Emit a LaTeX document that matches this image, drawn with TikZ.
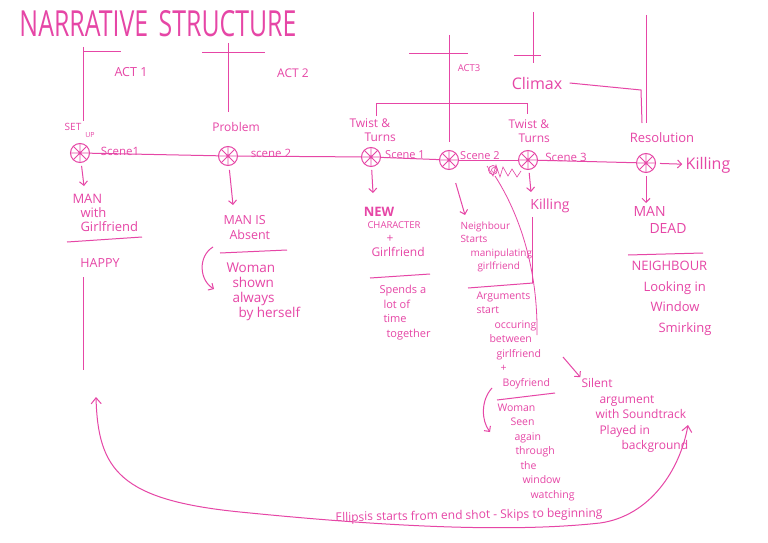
\documentclass[tikz,border=0pt]{standalone}
\usepackage{fontspec}
\setmainfont{Open Sans}
\usetikzlibrary{arrows.meta}
\definecolor{ink}{RGB}{230,70,166}
\begin{document}
\begin{tikzpicture}[x=1pt,y=-1pt,line width=1pt,color=ink,
  hand/.style={text=ink,inner sep=0pt,align=left,font=\fontsize{12}{14}\selectfont},
  handB/.style={hand,font=\fontsize{10.5}{14.5}\selectfont},
  lab/.style={text=ink,inner sep=0pt,font=\fontsize{11}{12}\selectfont},
  arr/.style={-{Straight Barb[length=4pt,width=8pt]}},
  wheel/.style={circle,draw=ink,line width=1pt,minimum size=19pt,inner sep=0pt,
    path picture={\draw[line width=0.75pt]
      (path picture bounding box.north)--(path picture bounding box.south)
      (path picture bounding box.west)--(path picture bounding box.east)
      (path picture bounding box.north east)--(path picture bounding box.south west)
      (path picture bounding box.north west)--(path picture bounding box.south east);}}]
\useasboundingbox[fill=white] (0,0) rectangle (768,543);

% title
\node[inner sep=0pt,text=ink] (title) at (158,24) {\fontsize{30}{30}\selectfont\resizebox{277pt}{26pt}{NARRATIVE \,STRUCTURE}};

% act markers
\draw (83,47) -- (83,121);  \draw (83,52) -- (121,52);
\draw (228,43) -- (228,112); \draw (202,53) -- (265,53);
\draw (449,35) -- (449,142); \draw (409,54) -- (468,54);
\draw (533,12) -- (533,63); \draw (514,56) -- (541,56);
\draw (646,15) -- (646,123);
\node[lab,font=\fontsize{12.5}{14}\selectfont] (act1) at (131,72) {ACT 1};
\node[lab,font=\fontsize{12}{14}\selectfont] (act2) at (293,73) {ACT 2};
\node[lab,font=\fontsize{9.5}{10}\selectfont] (act3) at (469,68) {ACT3};
\node[hand,font=\fontsize{16}{18}\selectfont] (climax) at (537,83) {Climax};
\coordinate (cb1) at (641,90);
\coordinate (cb2) at (642,123);
\draw ([xshift=7pt]climax.east) -- (cb1) -- (cb2);

% twist bracket
\draw (376,116) -- (376,103) -- (527,103) -- (527,114);

% wheels
\node[wheel] (c1) at (80,153) {};
\node[wheel] (c2) at (228,156) {};
\node[wheel] (c3) at (371,157) {};
\node[wheel] (c4) at (449,160) {};
\node[wheel] (c5) at (528,160) {};
\node[wheel] (c6) at (646,163) {};
\draw (c1) -- (c2);
\draw (c2) -- (c3);
\draw (c3) -- (c4);
\draw (c4) -- (c5);
\draw (c5) -- (c6);

% scene labels
\node[lab,font=\fontsize{11.5}{12}\selectfont] (sc1) at (120,151) {Scene1};
\node[lab,font=\fontsize{11.5}{12}\selectfont] (sc2) at (271,153) {scene 2};
\node[lab] (sc3) at (405,155) {Scene 1};
\node[lab] (sc4) at (480,156) {Scene 2};
\node[lab,font=\fontsize{11.5}{12}\selectfont] (sc5) at (566,157) {Scene 3};

% labels above
\node[lab,font=\fontsize{10}{11}\selectfont] (set) at (73,127) {SET};
\node[lab,font=\fontsize{7}{8}\selectfont] (up) at (90,135) {UP};
\node[hand] (problem) at (236,127) {Problem};
\node[hand,anchor=north west] (tt1) at (349,118) {Twist \&\\\hspace*{15pt}Turns};
\node[hand,anchor=north west] (tt2) at (508,119) {Twist \&\\\hspace*{10pt}Turns};
\node[hand,font=\fontsize{13}{15}\selectfont] (res) at (662,138) {Resolution};
\node[hand,font=\fontsize{16}{18}\selectfont] (kill2) at (708,165) {Killing};
\draw[arr,shorten <=4pt,shorten >=3pt] (c6) -- (kill2);

% scribble
\draw[line width=0.6pt] (487,166) -- (493,176) -- (496,165) -- (500,177) -- (503,167) -- (508,176) -- (512,169) -- (517,177) -- (521,171);
\draw[line width=0.7pt] (493,170) circle (4.5pt);
\draw[line width=0.6pt] (494,170) circle (2.5pt);
\coordinate (scr) at (495,176);
\coordinate (scrEnd) at (537,335);
\draw[line width=0.8pt] (scr) .. controls (520,215) and (538,270) .. (scrEnd);

% column 1
\coordinate (a1) at (84,186);
\draw[arr,shorten <=3pt] (c1) -- (a1);
\node[hand,font=\fontsize{13}{14}\selectfont,anchor=north west] (b1) at (72,194) {MAN\\\hspace*{8pt}with\\\hspace*{8pt}Girlfriend};
\draw (67,242) -- (142,237);
\node[hand,font=\fontsize{12.5}{14}\selectfont] (happy) at (100,263) {HAPPY};
\draw (83,277) -- (83,370);

% column 2
\coordinate (a2) at (233,205);
\draw[arr,shorten <=4pt] (c2) -- (a2);
\node[hand,font=\fontsize{12.5}{15}\selectfont,anchor=north west] (b2) at (223,215) {MAN IS\\\hspace*{6pt}Absent};
\draw (220,253) -- (287,250);
\draw[arr] (213,247) .. controls (198,256) and (199,280) .. (214,289);
\node[hand,font=\fontsize{13.5}{15}\selectfont,anchor=north west] (b3) at (226,262) {Woman\\\hspace*{6pt}shown\\\hspace*{6pt}always\\\hspace*{12pt}by herself};

% column 3
\coordinate (a3) at (373,193);
\draw[arr,shorten <=3pt] (c3) -- (a3);
\node[hand,font=\fontsize{13}{15}\selectfont\bfseries] (new) at (379,212) {NEW};
\node[handB,font=\fontsize{12}{14}\selectfont,anchor=north west] (b4) at (367,221) {{\fontsize{9.5}{14}\selectfont CHARACTER}\\\hspace*{19pt}+\\\hspace*{4pt}Girlfriend};
\draw (370,278) -- (430,274);
\node[handB,font=\fontsize{11}{14.5}\selectfont,anchor=north west] (b5) at (379,285) {Spends a\\\hspace*{4pt}lot of\\\hspace*{4pt}time\\\hspace*{7pt}together};

% column 4
\coordinate (a4) at (465,215);
\draw[arr,shorten <=14pt] (c4) -- (a4);
\node[handB,font=\fontsize{10}{13.5}\selectfont,anchor=north west] (b6) at (460,221) {Neighbour\\Starts\\\hspace*{10pt}manipulating\\\hspace*{17pt}girlfriend};
\draw (468,288) -- (533,283);
\node[handB,anchor=north west] (b7) at (476,291) {Arguments\\start\\\hspace*{18pt}occuring\\\hspace*{13pt}between\\\hspace*{20pt}girlfriend\\\hspace*{24pt}+\\\hspace*{26pt}Boyfriend};
\draw (497,400) -- (555,393);
\draw[arr] (492,388) .. controls (481,400) and (481,420) .. (490,432);
\node[handB,anchor=north west] (b8) at (497,403) {Woman\\\hspace*{13pt}Seen\\\hspace*{17pt}again\\\hspace*{18pt}through\\\hspace*{23pt}the\\\hspace*{25pt}window\\\hspace*{33pt}watching};

% column 5
\coordinate (a5) at (531,192);
\draw[arr,shorten <=3pt] (c5) -- (a5);
\node[hand,font=\fontsize{14}{16}\selectfont] (kill1) at (550,206) {Killing};
\draw (532,217) -- (532,283);
\coordinate (s0) at (563,357);
\node[handB,font=\fontsize{12}{15.5}\selectfont,anchor=north west] (b9) at (581,378) {Silent\\\hspace*{18pt}argument\\\hspace*{14pt}with Soundtrack\\\hspace*{18pt}Played in\\\hspace*{40pt}background};
\draw[arr,shorten >=1pt] (s0) -- (b9.north west);

% column 6
\coordinate (a6) at (646,203);
\draw[arr,shorten <=3pt] (c6) -- (a6);
\node[hand,font=\fontsize{14}{17}\selectfont,anchor=north west] (b10) at (633,206) {MAN\\\hspace*{16pt}DEAD};
\draw (628,255) -- (703,253);
\node[hand,font=\fontsize{13}{20.5}\selectfont,anchor=north west] (b11) at (631,261) {NEIGHBOUR\\\hspace*{12pt}Looking in\\\hspace*{19pt}Window\\\hspace*{27pt}Smirking};

% ellipsis loop
\coordinate (lt) at (96,397);
\coordinate (rt) at (688,425);
\draw[{Straight Barb[length=6pt,width=10pt]}-{Straight Barb[length=6pt,width=10pt]}]
  (lt) .. controls (98,470) and (120,500) .. (240,512)
       .. controls (360,524) and (500,534) .. (600,523)
       .. controls (650,516) and (680,470) .. (rt);
\node[hand,font=\fontsize{12}{13}\selectfont,rotate=1] (ell) at (469,516) {Ellipsis starts from end shot - Skips to beginning};
\end{tikzpicture}
\end{document}
